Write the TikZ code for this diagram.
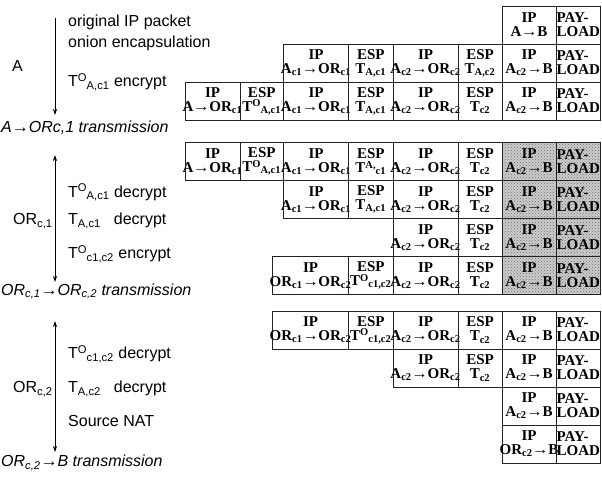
\documentclass[tikz,border=0pt]{standalone}
\usepackage{fontspec}
\setmainfont{Liberation Sans}
\newfontfamily\tabfont{Liberation Serif}
\usetikzlibrary{arrows.meta,patterns}
\newcommand{\lo}[1]{\textsubscript{#1}}
\newcommand{\hi}[1]{\raisebox{0.6ex}{\scalebox{0.7}{#1}}}
\newcommand{\tto}{\kern-0.3pt\scalebox{1.1}[1]{→}\kern-0.3pt}
\definecolor{rejilla}{HTML}{222222}
\definecolor{tramaG}{HTML}{6E6E6E}

\begin{document}
\begin{tikzpicture}[x=1pt,y=-1pt,
  lbl/.style={anchor=base west,inner sep=0pt,font=\fontsize{16}{19}\selectfont},
  xmit/.style={lbl,font=\fontsize{16}{19}\selectfont\itshape},
  flow/.style={line width=0.8pt,-{Stealth[length=6pt,width=4pt]}},
  flowboth/.style={line width=0.8pt,{Stealth[length=6pt,width=4pt]}-{Stealth[length=6pt,width=4pt]}},
  cell/.style={draw=rejilla,line width=0.9pt,inner xsep=-3pt,inner ysep=0pt,
    minimum height=38pt,align=center,font=\tabfont\bfseries\fontsize{15}{14}\selectfont},
  colA/.style={cell,minimum width=55pt},
  colB/.style={cell,minimum width=43.5pt},
  colC/.style={cell,minimum width=65pt},
  colD/.style={cell,minimum width=44.5pt},
  colE/.style={cell,minimum width=65pt},
  colF/.style={cell,minimum width=44pt},
  colG/.style={cell,minimum width=54pt},
  colH/.style={cell,minimum width=44.5pt,align=left},
  colX/.style={cell,minimum width=76pt},
  hatched/.style={preaction={fill=gray!40},pattern=crosshatch dots,pattern color=tramaG}]
  \fill[white] (0,0) rectangle (602,479);

  % host A
  \coordinate (a1s) at (55,18);
  \coordinate (a1e) at (55,115);
  \draw[flow] (a1s) -- (a1e);
  \node[lbl] (orig) at (68,26.5) {original IP packet};
  \node[lbl] (onion) at (68,47.5) {onion encapsulation};
  \node[lbl] (hostA) at (12,71.5) {A};
  \node[lbl] (encA) at (68,86.5) {T\hi{O}\lo{A,c1} encrypt};
  \node[xmit] (tx1) at (1,132) {A\tto ORc,1 transmission};

  % onion router c1
  \coordinate (a2s) at (55,155);
  \coordinate (a2e) at (55,282);
  \draw[flowboth] (a2s) -- (a2e);
  \node[lbl] (decA) at (68,197) {T\hi{O}\lo{A,c1} decrypt};
  \node[lbl] (orc1) at (13,224.5) {OR\lo{c,1}};
  \node[lbl] (decAc1) at (68,224.5) {T\lo{A,c1}\hspace{13pt}decrypt};
  \node[lbl] (encc) at (68,258.5) {T\hi{O}\lo{c1,c2} encrypt};
  \node[xmit] (tx2) at (1,295) {OR\lo{c,1}\tto OR\lo{c,2} transmission};

  % onion router c2
  \coordinate (a3s) at (55,321);
  \coordinate (a3e) at (55,452);
  \draw[flowboth] (a3s) -- (a3e);
  \node[lbl] (decc) at (68,358.5) {T\hi{O}\lo{c1,c2} decrypt};
  \node[lbl] (orc2) at (13,392.5) {OR\lo{c,2}};
  \node[lbl] (decAc2) at (68,392.5) {T\lo{A,c2}\hspace{13pt}decrypt};
  \node[lbl] (snat) at (68,426.5) {Source NAT};
  \node[xmit] (tx3) at (1,466.5) {OR\lo{c,2}\tto B transmission};

  % packets built at A
  \node[colG] (a1g) at (529,25) {IP\\A\tto B};
  \node[colH] (a1h) at (578.25,25) {PAY-\\LOAD};
  \node[colC] (a2c) at (316,63) {IP\\A\lo{c1}\tto OR\lo{c1}};
  \node[colD] (a2d) at (370.75,63) {ESP\\T\lo{A,c1}};
  \node[colE] (a2e) at (425.5,63) {IP\\A\lo{c2}\tto OR\lo{c2}};
  \node[colF] (a2f) at (480,63) {ESP\\T\lo{A,c2}};
  \node[colG] (a2g) at (529,63) {IP\\A\lo{c2}\tto B};
  \node[colH] (a2h) at (578.25,63) {PAY-\\LOAD};
  \node[colA] (a3a) at (212.5,101) {IP\\A\tto OR\lo{c1}};
  \node[colB] (a3b) at (261.75,101) {ESP\\T\hi{O}\lo{A,c1}};
  \node[colC] (a3c) at (316,101) {IP\\A\lo{c1}\tto OR\lo{c1}};
  \node[colD] (a3d) at (370.75,101) {ESP\\T\lo{A,c1}};
  \node[colE] (a3e) at (425.5,101) {IP\\A\lo{c2}\tto OR\lo{c2}};
  \node[colF] (a3f) at (480,101) {ESP\\T\lo{c2}};
  \node[colG] (a3g) at (529,101) {IP\\A\lo{c2}\tto B};
  \node[colH] (a3h) at (578.25,101) {PAY-\\LOAD};

  % packets at ORc1
  \node[colA] (b1a) at (212.5,161.5) {IP\\A\tto OR\lo{c1}};
  \node[colB] (b1b) at (261.75,161.5) {ESP\\T\hi{O}\lo{A,c1}};
  \node[colC] (b1c) at (316,161.5) {IP\\A\lo{c1}\tto OR\lo{c1}};
  \node[colD] (b1d) at (370.75,161.5) {ESP\\T\hi{A,}\lo{c1}};
  \node[colE] (b1e) at (425.5,161.5) {IP\\A\lo{c2}\tto OR\lo{c2}};
  \node[colF] (b1f) at (480,161.5) {ESP\\T\lo{c2}};
  \node[colG,hatched] (b1g) at (529,161.5) {IP\\A\lo{c2}\tto B};
  \node[colH,hatched] (b1h) at (578.25,161.5) {PAY-\\LOAD};
  \node[colC] (b2c) at (316,199.5) {IP\\A\lo{c1}\tto OR\lo{c1}};
  \node[colD] (b2d) at (370.75,199.5) {ESP\\T\lo{A,c1}};
  \node[colE] (b2e) at (425.5,199.5) {IP\\A\lo{c2}\tto OR\lo{c2}};
  \node[colF] (b2f) at (480,199.5) {ESP\\T\lo{c2}};
  \node[colG,hatched] (b2g) at (529,199.5) {IP\\A\lo{c2}\tto B};
  \node[colH,hatched] (b2h) at (578.25,199.5) {PAY-\\LOAD};
  \node[colE] (b3e) at (425.5,237.5) {IP\\A\lo{c2}\tto OR\lo{c2}};
  \node[colF] (b3f) at (480,237.5) {ESP\\T\lo{c2}};
  \node[colG,hatched] (b3g) at (529,237.5) {IP\\A\lo{c2}\tto B};
  \node[colH,hatched] (b3h) at (578.25,237.5) {PAY-\\LOAD};
  \node[colX] (b4x) at (310.5,275.5) {IP\\OR\lo{c1}\tto OR\lo{c2}};
  \node[colD] (b4d) at (370.75,275.5) {ESP\\T\hi{O}\lo{c1,c2}};
  \node[colE] (b4e) at (425.5,275.5) {IP\\A\lo{c2}\tto OR\lo{c2}};
  \node[colF] (b4f) at (480,275.5) {ESP\\T\lo{c2}};
  \node[colG,hatched] (b4g) at (529,275.5) {IP\\A\lo{c2}\tto B};
  \node[colH,hatched] (b4h) at (578.25,275.5) {PAY-\\LOAD};

  % packets at ORc2
  \node[colX] (c1x) at (310.5,330) {IP\\OR\lo{c1}\tto OR\lo{c2}};
  \node[colD] (c1d) at (370.75,330) {ESP\\T\hi{O}\lo{c1,c2}};
  \node[colE] (c1e) at (425.5,330) {IP\\A\lo{c2}\tto OR\lo{c2}};
  \node[colF] (c1f) at (480,330) {ESP\\T\lo{c2}};
  \node[colG] (c1g) at (529,330) {IP\\A\lo{c2}\tto B};
  \node[colH] (c1h) at (578.25,330) {PAY-\\LOAD};
  \node[colE] (c2e) at (425.5,368) {IP\\A\lo{c2}\tto OR\lo{c2}};
  \node[colF] (c2f) at (480,368) {ESP\\T\lo{c2}};
  \node[colG] (c2g) at (529,368) {IP\\A\lo{c2}\tto B};
  \node[colH] (c2h) at (578.25,368) {PAY-\\LOAD};
  \node[colG] (c3g) at (529,406) {IP\\A\lo{c2}\tto B};
  \node[colH] (c3h) at (578.25,406) {PAY-\\LOAD};
  \node[colG] (c4g) at (529,444) {IP\\OR\lo{c2}\tto B};
  \node[colH] (c4h) at (578.25,444) {PAY-\\LOAD};
\end{tikzpicture}
\end{document}
